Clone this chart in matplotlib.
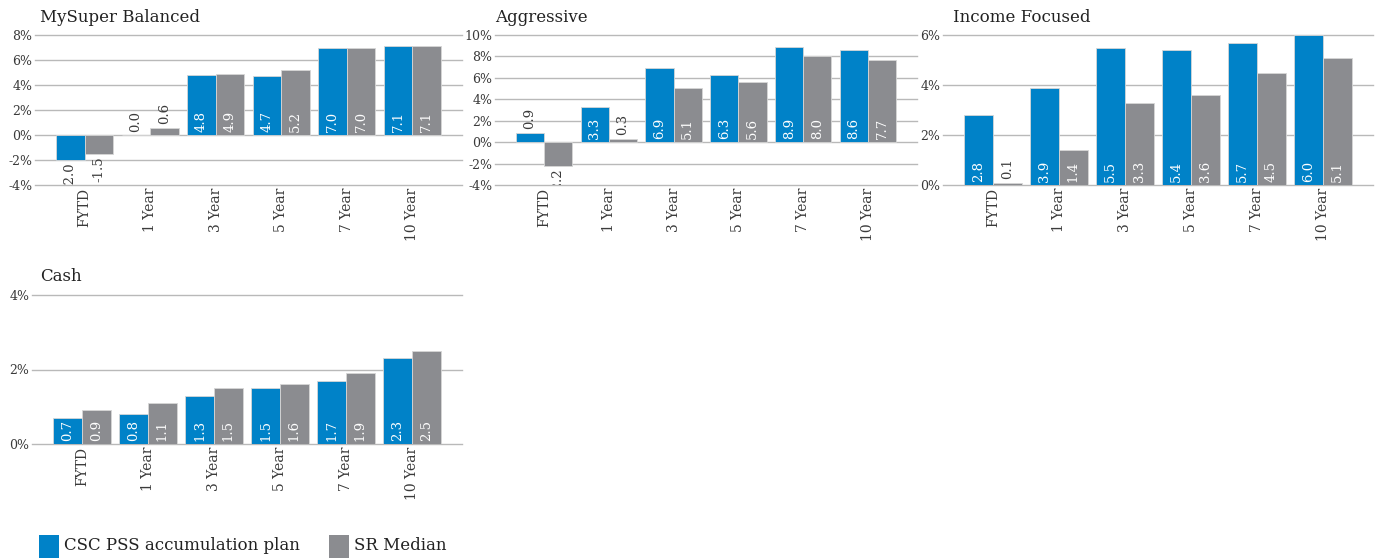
import matplotlib
matplotlib.use("Agg")
import numpy as np
import matplotlib.pyplot as plt
from matplotlib.patches import Rectangle

periods = ["FYTD", "1 Year", "3 Year", "5 Year", "7 Year", "10 Year"]

balanced_csc = [-2.0, 0.0, 4.8, 4.7, 7.0, 7.1]
balanced_sr = [-1.5, 0.6, 4.9, 5.2, 7.0, 7.1]

aggressive_csc = [0.9, 3.3, 6.9, 6.3, 8.9, 8.6]
aggressive_sr = [-2.2, 0.3, 5.1, 5.6, 8.0, 7.7]

income_csc = [2.8, 3.9, 5.5, 5.4, 5.7, 6.0]
income_sr = [0.1, 1.4, 3.3, 3.6, 4.5, 5.1]

cash_csc = [0.7, 0.8, 1.3, 1.5, 1.7, 2.3]
cash_sr = [0.9, 1.1, 1.5, 1.6, 1.9, 2.5]

series_names = ["CSC PSS accumulation plan", "SR Median"]

BLUE = "#0082c8"
GREY = "#8b8c90"
GRID = "#b9b9b9"
TXT = "#3a3a3a"
W, H = 1384, 558

plt.rcParams.update({
    "font.family": ["DejaVu Serif", "DejaVu Sans"],
    "font.size": 9,
})

fig = plt.figure(figsize=(W / 100, H / 100), dpi=100)


def px_axes(left, right, top, bottom):
    return fig.add_axes([left / W, (H - bottom) / H, (right - left) / W, (bottom - top) / H])


def panel(ax, title, csc, sr, ylo, yhi, title_dx, title_pad):
    x = np.arange(len(periods))
    bw = 0.434
    yrange = yhi - ylo
    for vals, off, col in [(csc, -bw / 2, BLUE), (sr, bw / 2, GREY)]:
        ax.bar(x + off, vals, bw, color=col, edgecolor="#d6d6d6", linewidth=0.6, zorder=3)
        for xi, v in zip(x + off, vals):
            lab = f"{v:.1f}"
            if v < 0:
                ax.annotate(lab, (xi, v), xytext=(0, -2), textcoords="offset points",
                            rotation=90, ha="center", va="top", fontsize=9.5,
                            color=TXT, clip_on=True, zorder=4)
            elif v / yrange < 0.15:
                ax.annotate(lab, (xi, v), xytext=(0, 2.5), textcoords="offset points",
                            rotation=90, ha="center", va="bottom", fontsize=9.5,
                            color=TXT, zorder=4)
            else:
                ax.annotate(lab, (xi, 0), xytext=(0, 2), textcoords="offset points",
                            rotation=90, ha="center", va="bottom", fontsize=9.5,
                            color="white", zorder=4)

    ticks = np.arange(ylo, yhi + 0.1, 2)
    ax.set_xlim(-0.755, len(periods) - 1 + 0.755)
    ax.set_ylim(ylo, yhi)
    ax.set_yticks(ticks)
    ax.set_yticklabels([f"{int(t)}%" for t in ticks])
    ax.set_xticks(x)
    ax.set_xticklabels(periods, rotation=90, fontsize=10, color="#222222")
    ax.tick_params(axis="both", length=0, colors=TXT)
    ax.tick_params(axis="y", pad=2, labelsize=9)
    ax.tick_params(axis="x", pad=2)
    ax.grid(axis="y", color=GRID, linewidth=1, zorder=0)
    for gl in ax.get_ygridlines():
        gl.set_clip_on(False)
    for s in ax.spines.values():
        s.set_visible(False)
    t = ax.set_title(title, loc="left", fontsize=12, color="#222222", pad=title_pad)
    t.set_x(title_dx)


ax1 = px_axes(35, 462, 35, 185)
panel(ax1, "MySuper Balanced", balanced_csc, balanced_sr, -4, 8, 0.012, 9.5)

ax2 = px_axes(495, 917, 35, 185)
panel(ax2, "Aggressive", aggressive_csc, aggressive_sr, -4, 10, 0.0, 9.5)

ax3 = px_axes(943, 1373, 35, 185)
panel(ax3, "Income Focused", income_csc, income_sr, 0, 6, 0.023, 9.5)

ax4 = px_axes(32, 462, 295, 444)
panel(ax4, "Cash", cash_csc, cash_sr, 0, 4, 0.019, 10)

# legend
for (x0, name, col) in [(39, series_names[0], BLUE), (329, series_names[1], GREY)]:
    fig.add_artist(Rectangle((x0 / W, 0), 20 / W, 23 / H, transform=fig.transFigure,
                             color=col, linewidth=0))
    fig.text((x0 + 25) / W, 13 / H, name, fontsize=12, color="#222222",
             va="center", ha="left")

fig.savefig("out.png", dpi=100)
